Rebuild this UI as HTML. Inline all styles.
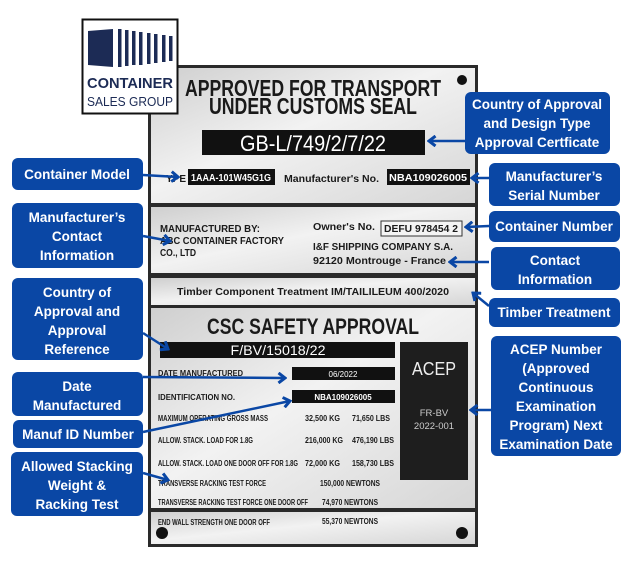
<!DOCTYPE html>
<html><head><meta charset="utf-8"><style>
html,body{margin:0;padding:0;background:#fff;width:625px;height:561px;overflow:hidden}
svg{display:block}
.pl{font-family:"Liberation Sans",sans-serif;font-weight:bold;fill:#1a1a1a}
.lb{font-family:"Liberation Sans",sans-serif;font-weight:bold;fill:#fff;font-size:13.5px;text-anchor:middle}
</style></head><body>
<svg width="625" height="561" viewBox="0 0 625 561" xmlns="http://www.w3.org/2000/svg">
<defs>
<linearGradient id="g" x1="0" y1="0" x2="1" y2="1">
<stop offset="0" stop-color="#cfcfcf"/><stop offset="0.45" stop-color="#f2f2f2"/><stop offset="1" stop-color="#d6d6d6"/>
</linearGradient>
<marker id="ah" markerWidth="10" markerHeight="12" refX="8" refY="6" orient="auto" markerUnits="userSpaceOnUse">
<path d="M1.5,1 L8,6 L1.5,11" fill="none" stroke="#0a47a5" stroke-width="3"/>
</marker>
</defs>
<!-- plate -->
<rect x="148" y="65" width="330" height="482" fill="#2a2a2a"/>
<rect x="151" y="68" width="324" height="135" fill="url(#g)"/>
<rect x="151" y="207" width="324" height="66" fill="url(#g)"/>
<rect x="151" y="278" width="324" height="27" fill="url(#g)"/>
<rect x="151" y="308" width="324" height="200" fill="url(#g)"/>
<rect x="151" y="512" width="324" height="32" fill="url(#g)"/>
<circle cx="462" cy="80" r="5" fill="#111"/>
<circle cx="162" cy="533" r="6" fill="#111"/>
<circle cx="462" cy="533" r="6" fill="#111"/>
<text class="pl" x="313" y="96" font-size="23" text-anchor="middle" textLength="256" lengthAdjust="spacingAndGlyphs">APPROVED FOR TRANSPORT</text>
<text class="pl" x="313" y="114" font-size="23" text-anchor="middle" textLength="208" lengthAdjust="spacingAndGlyphs">UNDER CUSTOMS SEAL</text>
<rect x="202" y="130" width="223" height="25" fill="#111"/>
<text x="313" y="151" font-family="Liberation Sans,sans-serif" font-size="22" fill="#fff" text-anchor="middle" textLength="146" lengthAdjust="spacingAndGlyphs">GB-L/749/2/7/22</text>
<text class="pl" x="166" y="182" font-size="10" textLength="20" lengthAdjust="spacingAndGlyphs">YPE</text>
<rect x="188" y="169" width="87" height="16" fill="#111"/>
<text x="231" y="181" font-family="Liberation Sans,sans-serif" font-weight="bold" font-size="10" fill="#fff" text-anchor="middle" textLength="80" lengthAdjust="spacingAndGlyphs">1AAA-101W45G1G</text>
<text class="pl" x="284" y="182" font-size="10" textLength="95" lengthAdjust="spacingAndGlyphs">Manufacturer's No.</text>
<rect x="387" y="169" width="83" height="16" fill="#111"/>
<text x="428" y="181" font-family="Liberation Sans,sans-serif" font-weight="bold" font-size="10" fill="#fff" text-anchor="middle" textLength="78" lengthAdjust="spacingAndGlyphs">NBA109026005</text>
<text class="pl" x="160" y="232" font-size="10" textLength="100" lengthAdjust="spacingAndGlyphs">MANUFACTURED BY:</text>
<text class="pl" x="160" y="244" font-size="10" textLength="124" lengthAdjust="spacingAndGlyphs">ABC CONTAINER FACTORY</text>
<text class="pl" x="160" y="256" font-size="10" textLength="36" lengthAdjust="spacingAndGlyphs">CO., LTD</text>
<text class="pl" x="313" y="230" font-size="10" textLength="62" lengthAdjust="spacingAndGlyphs">Owner's No.</text>
<rect x="381" y="221" width="81" height="15" fill="#f4f4f4" stroke="#333" stroke-width="1"/>
<text class="pl" x="421" y="232" font-size="10" text-anchor="middle" textLength="74" lengthAdjust="spacingAndGlyphs">DEFU 978454 2</text>
<text class="pl" x="313" y="250" font-size="10" textLength="140" lengthAdjust="spacingAndGlyphs">I&amp;F SHIPPING COMPANY S.A.</text>
<text class="pl" x="313" y="264" font-size="10" textLength="133" lengthAdjust="spacingAndGlyphs">92120 Montrouge - France</text>
<text class="pl" x="313" y="295" font-size="10" text-anchor="middle" textLength="272" lengthAdjust="spacingAndGlyphs">Timber Component Treatment IM/TAILILEUM 400/2020</text>
<text class="pl" x="313" y="334" font-size="22" text-anchor="middle" textLength="212" lengthAdjust="spacingAndGlyphs">CSC SAFETY APPROVAL</text>
<rect x="160" y="342" width="235" height="16" fill="#111"/>
<text x="278" y="355" font-family="Liberation Sans,sans-serif" font-size="14" fill="#fff" text-anchor="middle" textLength="95" lengthAdjust="spacingAndGlyphs">F/BV/15018/22</text>
<rect x="400" y="342" width="68" height="138" fill="#1e1e1e"/>
<text x="434" y="375" font-family="Liberation Sans,sans-serif" font-size="18" fill="#eee" text-anchor="middle" textLength="44" lengthAdjust="spacingAndGlyphs">ACEP</text>
<text x="434" y="416" font-family="Liberation Sans,sans-serif" font-size="9.5" fill="#ccc" text-anchor="middle">FR-BV</text>
<text x="434" y="429" font-family="Liberation Sans,sans-serif" font-size="9.5" fill="#ccc" text-anchor="middle">2022-001</text>
<rect x="292" y="367" width="103" height="13" fill="#111"/>
<text x="343" y="377" font-family="Liberation Sans,sans-serif" font-size="8" fill="#fff" text-anchor="middle">06/2022</text>
<rect x="292" y="390" width="103" height="13" fill="#111"/>
<text x="343" y="400" font-family="Liberation Sans,sans-serif" font-weight="bold" font-size="8" fill="#fff" text-anchor="middle">NBA109026005</text>
<g class="pl" font-size="8">
<text x="158" y="376" textLength="85" lengthAdjust="spacingAndGlyphs">DATE MANUFACTURED</text>
<text x="158" y="400" textLength="77" lengthAdjust="spacingAndGlyphs">IDENTIFICATION NO.</text>
<text x="158" y="421" textLength="110" lengthAdjust="spacingAndGlyphs">MAXIMUM OPERATING GROSS MASS</text>
<text x="158" y="443" textLength="95" lengthAdjust="spacingAndGlyphs">ALLOW. STACK. LOAD FOR 1.8G</text>
<text x="158" y="466" textLength="140" lengthAdjust="spacingAndGlyphs">ALLOW. STACK. LOAD ONE DOOR OFF FOR 1.8G</text>
<text x="158" y="486" textLength="108" lengthAdjust="spacingAndGlyphs">TRANSVERSE RACKING TEST FORCE</text>
<text x="158" y="505" textLength="150" lengthAdjust="spacingAndGlyphs">TRANSVERSE RACKING TEST FORCE ONE DOOR OFF</text>
<text x="158" y="525" textLength="112" lengthAdjust="spacingAndGlyphs">END WALL STRENGTH ONE DOOR OFF</text>
<text x="305" y="421" textLength="35" lengthAdjust="spacingAndGlyphs">32,500 KG</text><text x="352" y="421" textLength="38" lengthAdjust="spacingAndGlyphs">71,650 LBS</text>
<text x="305" y="443" textLength="38" lengthAdjust="spacingAndGlyphs">216,000 KG</text><text x="352" y="443" textLength="42" lengthAdjust="spacingAndGlyphs">476,190 LBS</text>
<text x="305" y="466" textLength="35" lengthAdjust="spacingAndGlyphs">72,000 KG</text><text x="352" y="466" textLength="42" lengthAdjust="spacingAndGlyphs">158,730 LBS</text>
<text x="320" y="486" textLength="60" lengthAdjust="spacingAndGlyphs">150,000 NEWTONS</text>
<text x="322" y="505" textLength="56" lengthAdjust="spacingAndGlyphs">74,970 NEWTONS</text>
<text x="322" y="524" textLength="56" lengthAdjust="spacingAndGlyphs">55,370 NEWTONS</text>
</g>
<!-- logo -->
<rect x="82.5" y="19.5" width="95" height="94" fill="#fff" stroke="#111" stroke-width="2"/>
<g fill="#1c2b55">
<path d="M88,31 L113,29 L113,67 L88,65 Z"/>
<rect x="118" y="29" width="3.5" height="38"/><rect x="125" y="30" width="3.5" height="36"/>
<rect x="132" y="31" width="3.5" height="34"/><rect x="139" y="32" width="3.5" height="33"/>
<rect x="147" y="33" width="3.5" height="31"/><rect x="154" y="34" width="3.5" height="29"/>
<rect x="162" y="35" width="3.5" height="27"/><rect x="169" y="36" width="3.5" height="25"/>
</g>
<text x="130" y="88" font-family="Liberation Sans,sans-serif" font-weight="bold" font-size="15" fill="#1c2b55" text-anchor="middle" textLength="86" lengthAdjust="spacingAndGlyphs">CONTAINER</text>
<text x="130" y="106" font-family="Liberation Sans,sans-serif" font-size="13" fill="#1c2b55" text-anchor="middle" textLength="86" lengthAdjust="spacingAndGlyphs">SALES GROUP</text>
<!-- labels -->
<g fill="#0a47a5">
<rect x="12" y="158" width="131" height="32" rx="6"/>
<rect x="12" y="203" width="131" height="65" rx="6"/>
<rect x="12" y="278" width="131" height="82" rx="6"/>
<rect x="12" y="372" width="131" height="44" rx="6"/>
<rect x="13" y="420" width="130" height="28" rx="6"/>
<rect x="11" y="452" width="132" height="64" rx="6"/>
<rect x="465" y="92" width="145" height="62" rx="6"/>
<rect x="489" y="163" width="131" height="43" rx="6"/>
<rect x="489" y="211" width="131" height="31" rx="6"/>
<rect x="491" y="247" width="129" height="43" rx="6"/>
<rect x="489" y="298" width="131" height="29" rx="6"/>
<rect x="491" y="336" width="130" height="120" rx="6"/>
</g>
<g class="lb">
<text x="77" y="179">Container Model</text>
<text x="77" y="222">Manufacturer’s</text><text x="77" y="241">Contact</text><text x="77" y="260">Information</text>
<text x="77" y="297">Country of</text><text x="77" y="316">Approval and</text><text x="77" y="335">Approval</text><text x="77" y="354">Reference</text>
<text x="77" y="391">Date</text><text x="77" y="410">Manufactured</text>
<text x="78" y="439">Manuf ID Number</text>
<text x="77" y="471">Allowed Stacking</text><text x="77" y="490">Weight &amp;</text><text x="77" y="509">Racking Test</text>
<text x="537" y="109">Country of Approval</text><text x="537" y="128">and Design Type</text><text x="537" y="147">Approval Certficate</text>
<text x="554" y="181">Manufacturer’s</text><text x="554" y="200">Serial Number</text>
<text x="554" y="231">Container Number</text>
<text x="555" y="265">Contact</text><text x="555" y="284">Information</text>
<text x="554" y="317">Timber Treatment</text>
<text x="556" y="354">ACEP Number</text><text x="556" y="373">(Approved</text><text x="556" y="392">Continuous</text><text x="556" y="411">Examination</text><text x="556" y="430">Program) Next</text><text x="556" y="449">Examination Date</text>
</g>
<!-- arrows -->
<g stroke="#0a47a5" stroke-width="2.5" fill="none" marker-end="url(#ah)">
<line x1="143" y1="175" x2="178" y2="177"/>
<line x1="143" y1="236" x2="170" y2="241"/>
<line x1="143" y1="333" x2="168" y2="349"/>
<line x1="143" y1="377" x2="285" y2="378"/>
<line x1="143" y1="432" x2="290" y2="401"/>
<line x1="143" y1="473" x2="168" y2="480"/>
<line x1="465" y1="141" x2="429" y2="141"/>
<line x1="489" y1="178" x2="472" y2="178"/>
<line x1="489" y1="226" x2="466" y2="227"/>
<line x1="489" y1="262" x2="450" y2="262"/>
<line x1="489" y1="306" x2="473" y2="293"/>
<line x1="491" y1="410" x2="471" y2="410"/>
</g>
</svg>
</body></html>
